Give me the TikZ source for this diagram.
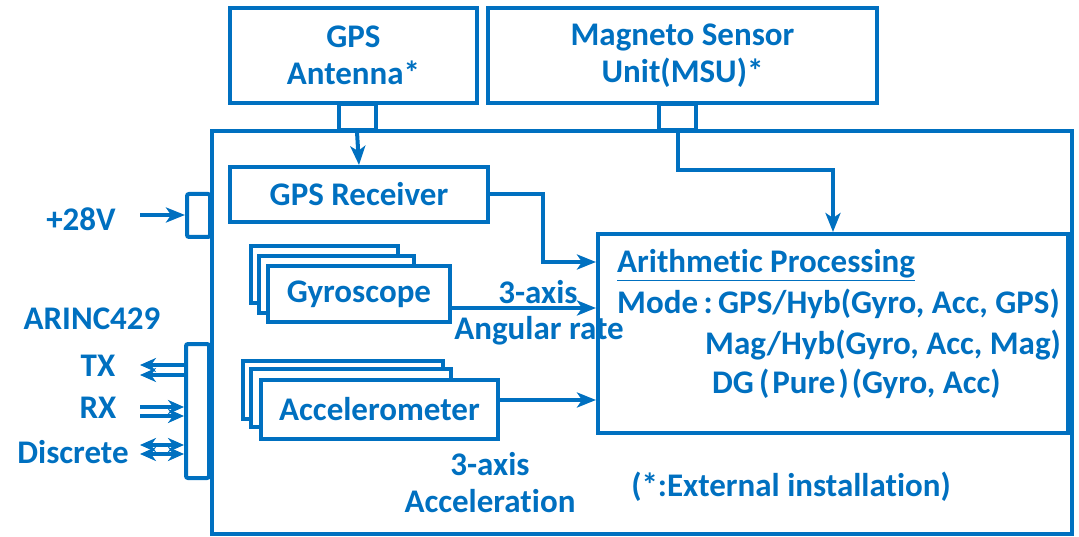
\documentclass[tikz,border=0pt]{standalone}
\usepackage{fontspec}
\setmainfont{Carlito}[RawFeature=-liga]
\usetikzlibrary{arrows.meta}
\definecolor{cb}{HTML}{0070C0}

\tikzset{
  blk/.style={draw=cb, line width=4pt, fill=white, inner sep=0pt, text=cb,
              font=\fontsize{33}{37}\selectfont\bfseries, align=center},
  port/.style={draw=cb, line width=4pt, fill=white, inner sep=0pt},
  lbl/.style={text=cb, inner sep=0pt, font=\fontsize{33}{38}\selectfont\bfseries, align=center},
  wire/.style={draw=cb, line width=4pt, line join=miter},
  tip/.style={-{Stealth[length=19pt,width=15pt,inset=5pt]}},
  bus/.style={draw=cb, line width=3.5pt},
  tipsm/.style={-{Stealth[length=16pt,width=14pt,inset=5pt]}},
  tipboth/.style={{Stealth[length=16pt,width=14pt,inset=5pt]}-{Stealth[length=16pt,width=14pt,inset=5pt]}},
}

\begin{document}
\begin{tikzpicture}[x=1pt,y=-1pt]
\useasboundingbox (0,0) rectangle (1079,537);

% external units
\node[blk, minimum width=247pt, minimum height=95pt] (gpsant) at (353.5,55.5) {GPS\\Antenna*};
\node[blk, minimum width=389pt, minimum height=95pt] (msu) at (682.5,55.5) {Magneto Sensor\\Unit(MSU)*};

% main unit housing
\draw[wire] (212,131) rectangle (1072,534);

% connectors between external units and housing
\node[port, minimum width=37pt, minimum height=26pt] (gpsport) at (357,117) {};
\node[port, minimum width=37pt, minimum height=26pt] (msuport) at (677.5,117) {};

% internal blocks
\node[blk, minimum width=258pt, minimum height=55pt] (gpsrx) at (359,194.5) {GPS Receiver};

\node[blk, minimum width=147pt, minimum height=57pt] (gy3) at (324.5,274.5) {};
\node[blk, minimum width=155pt, minimum height=57pt] (gy2) at (336.5,284.5) {};
\node[blk, minimum width=182pt, minimum height=56pt] (gyro) at (359,294) {Gyroscope};

\node[blk, minimum width=200pt, minimum height=58pt] (ac3) at (343,390) {};
\node[blk, minimum width=200pt, minimum height=58pt] (ac2) at (351,398) {};
\node[blk, minimum width=237pt, minimum height=59pt] (acc) at (379.5,409.5) {Accelerometer};

\node[blk, minimum width=470pt, minimum height=199pt] (arith) at (833,333.5) {};

% arithmetic processing contents
\node[lbl, anchor=base west] at (617,273) {\underline{Arithmetic Processing}};
\node[lbl, anchor=base west] at (617,314) {Mode\,:\,GPS/Hyb(Gyro, Acc, GPS)};
\node[lbl, anchor=base west] at (705,354) {Mag/Hyb(Gyro, Acc, Mag)};
\node[lbl, anchor=base west] at (712,393) {DG\hspace{5pt}(\hspace{3pt}Pure\hspace{3pt})\hspace{3pt}(Gyro, Acc)};

% signal paths
\draw[wire, tip] (gpsport.south) -- (gpsrx.north);
\draw[wire, tip] (msuport.south) |- (833,170) -- (arith.north -| 833,0);
\draw[wire, tip] (gpsrx.east) -| (543,262) -- (arith.west |- 0,262);
\draw[wire, tip] (gyro.east |- 0,308) -- (arith.west |- 0,308);
\draw[wire, tip] (acc.east |- 0,400) -- (arith.west |- 0,400);

\node[lbl] at (538,292) {3-axis};
\node[lbl] at (539,331) {Angular rate};
\node[lbl] at (490,464) {3-axis};
\node[lbl] at (490,501) {Acceleration};
\node[lbl] at (791,487) {(*:External installation)};

% power input
\node[port, minimum width=23pt, minimum height=43pt, rounded corners=2pt] (pwr) at (198.5,215.5) {};
\coordinate (pwrin) at (140,215);
\draw[wire, tip] (pwrin) -- (pwr.west |- pwrin);
\node[lbl] at (81,219) {+28V};

% ARINC429 interface
\node[port, minimum width=23pt, minimum height=134pt, rounded corners=2pt] (arinc) at (197.5,411) {};
\node[lbl] at (92,319) {ARINC429};
\node[lbl] at (98,366) {TX};
\node[lbl] at (98,408) {RX};
\node[lbl] at (73,452) {Discrete};

\coordinate (tx1) at (140,365);
\coordinate (tx2) at (140,375);
\coordinate (rx1) at (140,407);
\coordinate (rx2) at (140,416);
\coordinate (ds1) at (140,445);
\coordinate (ds2) at (140,454);
\draw[bus, tipsm] (arinc.west |- tx1) -- (tx1);
\draw[bus, tipsm] (arinc.west |- tx2) -- (tx2);
\draw[bus, tipsm] (rx1) -- (arinc.west |- rx1);
\draw[bus, tipsm] (rx2) -- (arinc.west |- rx2);
\draw[bus, tipboth] (ds1) -- (arinc.west |- ds1);
\draw[bus, tipboth] (ds2) -- (arinc.west |- ds2);
\end{tikzpicture}
\end{document}
